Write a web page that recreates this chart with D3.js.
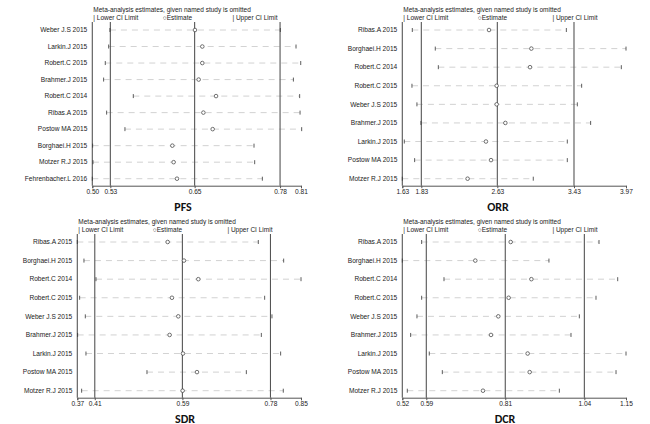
<!DOCTYPE html>
<html>
<head>
<meta charset="utf-8">
<script src="https://cdn.jsdelivr.net/npm/d3@7/dist/d3.min.js"></script>
<style>
  body { margin: 0; background: #fff; }
  svg text { font-family: "Liberation Sans", Arial, sans-serif; }
</style>
</head>
<body>
<svg id="chart" width="650" height="424"></svg>
<script>
// ---------- DATA ----------
const pfsStudies = ["Weber J.S 2015","Larkin.J 2015","Robert.C 2015","Brahmer.J 2015","Robert.C 2014","Ribas.A 2015","Postow MA 2015","Borghaei.H 2015","Motzer R.J 2015","Fehrenbacher.L 2016"];
const pfsEst   = [0.6525,0.6634,0.6634,0.658,0.6838,0.665,0.6788,0.6189,0.6208,0.6258];
const pfsLower = [0.5262,0.5243,0.5193,0.5168,0.5609,0.5213,0.5485,0.5005,0.501,0.500];
const pfsUpper = [0.7793,0.8026,0.8096,0.7987,0.808,0.8086,0.811,0.7402,0.7412,0.7526];
const pfsTicks = [0.50,0.5268,0.652,0.7789,0.81];
const pfsTickLabels = ["0.50","0.53","0.65","0.78","0.81"];

const orrStudies = ["Ribas.A 2015","Borghaei.H 2015","Robert.C 2014","Robert.C 2015","Weber J.S 2015","Brahmer.J 2015","Larkin.J 2015","Postow MA 2015","Motzer R.J 2015"];
const orrEst   = [2.537,2.98,2.966,2.617,2.617,2.708,2.505,2.558,2.313];
const orrLower = [1.7346,1.975,2.007,1.731,1.783,1.825,1.651,1.759,1.63];
const orrUpper = [3.346,3.97,3.921,3.506,3.461,3.600,3.356,3.356,3.00];
const orrTicks = [1.63,1.829,2.624,3.426,3.97];
const orrTickLabels = ["1.63","1.83","2.63","3.43","3.97"];

const sdrStudies = ["Ribas.A 2015","Borghaei.H 2015","Robert.C 2014","Robert.C 2015","Weber J.S 2015","Brahmer.J 2015","Larkin.J 2015","Postow MA 2015","Motzer R.J 2015"];
const sdrEst   = [0.5639,0.5989,0.6297,0.5731,0.5867,0.5681,0.5967,0.6268,0.596];
const sdrLower = [0.37,0.3843,0.4101,0.375,0.3872,0.3707,0.3886,0.5195,0.3793];
const sdrUpper = [0.7584,0.8128,0.85,0.772,0.7877,0.7649,0.8063,0.7327,0.812];
const sdrTicks = [0.37,0.4075,0.5955,0.7845,0.85];
const sdrTickLabels = ["0.37","0.41","0.59","0.78","0.85"];

const dcrStudies = ["Ribas.A 2015","Borghaei.H 2015","Robert.C 2014","Robert.C 2015","Weber J.S 2015","Brahmer.J 2015","Larkin.J 2015","Postow MA 2015","Motzer R.J 2015"];
const dcrEst   = [0.8252,0.7256,0.8835,0.8195,0.7904,0.7698,0.873,0.8787,0.7472];
const dcrLower = [0.5745,0.52,0.6374,0.5745,0.5613,0.5435,0.596,0.6327,0.5341];
const dcrUpper = [1.074,0.933,1.1266,1.0655,1.0186,0.9951,1.15,1.1219,0.9623];
const dcrTicks = [0.52,0.5876,0.810,1.0327,1.15];
const dcrTickLabels = ["0.52","0.59","0.81","1.04","1.15"];

const panelTitles = ["PFS","ORR","SDR","DCR"];
const headerText = "Meta-analysis estimates, given named study is omitted";
const legendLabels = ["| Lower CI Limit","\u25CBEstimate","| Upper CI Limit"];

// ---------- DRAW ----------
const svg = d3.select("#chart");

const panels = [
  {studies:pfsStudies, est:pfsEst, lo:pfsLower, hi:pfsUpper, ticks:pfsTicks, labels:pfsTickLabels, title:panelTitles[0], ox:0,   oy:0,   x0:92.3, x1:301, tx:183},
  {studies:orrStudies, est:orrEst, lo:orrLower, hi:orrUpper, ticks:orrTicks, labels:orrTickLabels, title:panelTitles[1], ox:325, oy:0,   x0:77.3, x1:301, tx:173},
  {studies:sdrStudies, est:sdrEst, lo:sdrLower, hi:sdrUpper, ticks:sdrTicks, labels:sdrTickLabels, title:panelTitles[2], ox:0,   oy:212, x0:77.3, x1:301, tx:185},
  {studies:dcrStudies, est:dcrEst, lo:dcrLower, hi:dcrUpper, ticks:dcrTicks, labels:dcrTickLabels, title:panelTitles[3], ox:325, oy:212, x0:77.3, x1:301, tx:180}
];

const plotTop = 22, axisY = 185.7, rowTop = 30, rowBot = 178.7;

panels.forEach(p => {
  const g = svg.append("g").attr("transform", `translate(${p.ox},${p.oy})`);
  const x = d3.scaleLinear().domain([p.ticks[0], p.ticks[p.ticks.length-1]]).range([p.x0, p.x1]);
  const y = d3.scalePoint().domain(p.studies).range([rowTop, rowBot]);

  // header
  g.append("text").attr("x", p.x0 + 1).attr("y", 12).attr("font-size", 6.5).attr("fill", "#222").text(headerText);
  const w = p.x1 - p.x0;
  [0, 1/3, 2/3].forEach((f, i) => {
    g.append("text").attr("x", p.x0 + 1 + f * w).attr("y", 19.6).attr("font-size", 6.5).attr("fill", "#222").text(legendLabels[i]);
  });

  // CI lines
  p.studies.forEach((s, i) => {
    g.append("line")
      .attr("x1", x(p.lo[i])).attr("x2", x(p.hi[i]))
      .attr("y1", y(s)).attr("y2", y(s))
      .attr("stroke", "#c6c6c6").attr("stroke-width", 0.8)
      .attr("stroke-dasharray", "6,5");
  });

  // vertical reference lines (inner ticks)
  p.ticks.slice(1, 4).forEach(t => {
    g.append("line").attr("x1", x(t)).attr("x2", x(t)).attr("y1", plotTop).attr("y2", axisY)
      .attr("stroke", "#555").attr("stroke-width", 1.1);
  });
  // left axis line
  g.append("line").attr("x1", p.x0).attr("x2", p.x0).attr("y1", plotTop).attr("y2", axisY)
    .attr("stroke", "#555").attr("stroke-width", 1.1);

  // bottom axis
  const axis = d3.axisBottom(x).tickValues(p.ticks).tickSize(2.5).tickPadding(1.5)
    .tickFormat((d, i) => p.labels[i]);
  const ax = g.append("g").attr("transform", `translate(0,${axisY})`).call(axis);
  ax.select(".domain").attr("stroke", "#555").attr("stroke-width", 1);
  ax.selectAll(".tick line").attr("stroke", "#555");
  ax.selectAll(".tick text").attr("font-size", 6.6).attr("fill", "#222")
    .style("font-family", '"Liberation Sans", Arial, sans-serif');

  // CI limit ticks
  p.studies.forEach((s, i) => {
    [p.lo[i], p.hi[i]].forEach(v => {
      g.append("line").attr("x1", x(v)).attr("x2", x(v))
        .attr("y1", y(s) - 2).attr("y2", y(s) + 2)
        .attr("stroke", "#333").attr("stroke-width", 0.8);
    });
  });

  // estimates
  g.selectAll("circle.est").data(p.studies).enter().append("circle")
    .attr("cx", (d, i) => x(p.est[i])).attr("cy", d => y(d)).attr("r", 1.8)
    .attr("fill", "#fff").attr("stroke", "#444").attr("stroke-width", 0.75);

  // study labels
  g.selectAll("text.lab").data(p.studies).enter().append("text")
    .attr("x", p.x0 - 5).attr("y", d => y(d) + 2.3)
    .attr("text-anchor", "end").attr("font-size", 6.6).attr("fill", "#222")
    .text(d => d);

  // panel title
  g.append("text").attr("x", p.tx).attr("y", 210.5).attr("text-anchor", "middle")
    .attr("font-size", 12).attr("font-weight", "bold").attr("fill", "#111")
    .style("font-family", 'Calibri, "Carlito", "Open Sans", "Liberation Sans", sans-serif')
    .text(p.title);
});
</script>
</body>
</html>
